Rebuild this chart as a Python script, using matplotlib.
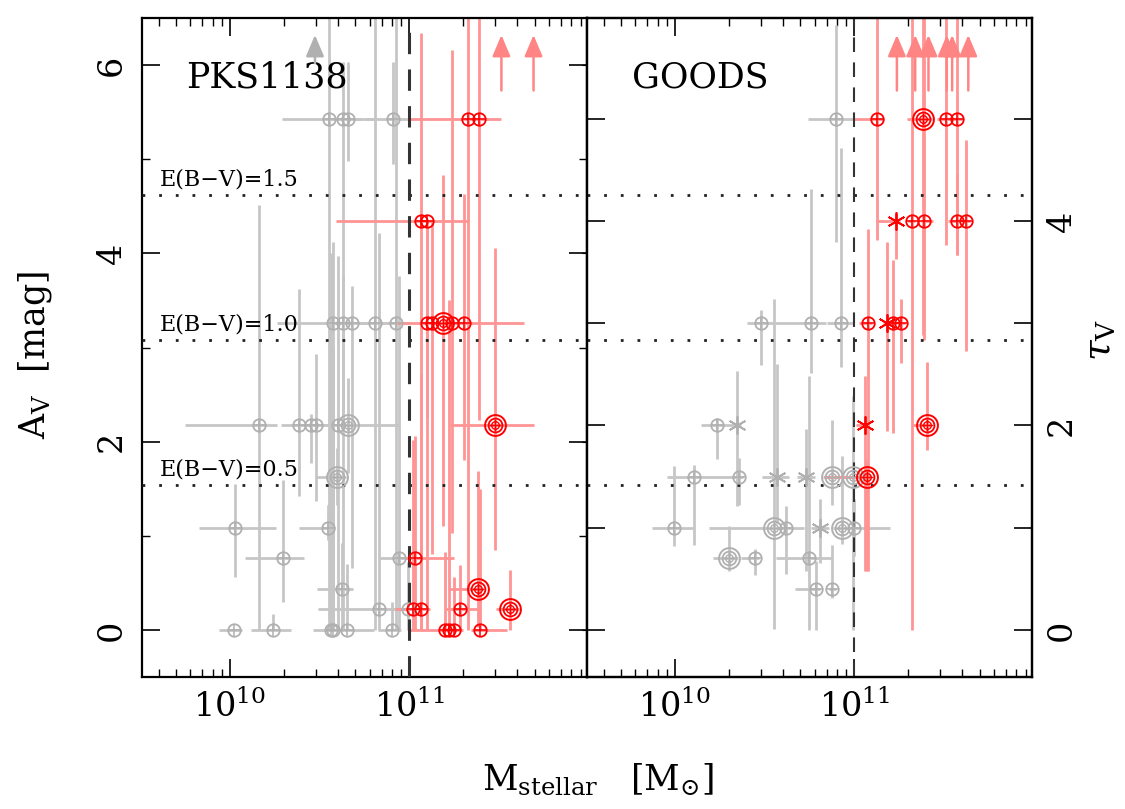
import matplotlib
matplotlib.use("Agg")
import matplotlib.pyplot as plt
import numpy as np
from matplotlib.ticker import LogLocator, LogFormatterMathtext, FixedLocator, FuncFormatter, NullFormatter

plt.rcParams['font.family'] = ['DejaVu Serif']
plt.rcParams['mathtext.fontset'] = 'dejavuserif'

AV_PER_TAU = 1.086   # A_V = 1.086 tau_V
RV = 3.08            # A_V = R_V E(B-V)
EBV_LEVELS = [0.5, 1.0, 1.5]

# ---- PKS1138 ----
pks_logm = [10.553, 10.631, 10.660, 10.909, 10.572, 10.631, 10.683, 10.809, 10.924,
            10.160, 10.387, 10.452, 10.480, 10.605, 10.660, 10.596, 10.026, 10.544,
            10.294, 10.942, 10.624, 10.831, 10.994, 10.020, 10.238, 10.563, 10.572,
            10.655, 10.905,
            11.327, 11.390, 11.063, 11.100, 11.100, 11.127, 11.190, 11.238, 11.303,
            11.476, 11.031, 11.383, 11.022, 11.066, 11.285, 11.563, 11.198, 11.220,
            11.248, 11.396]
pks_tau = [5, 5, 5, 5, 3, 3, 3, 3, 3,
           2, 2, 2, 2, 2, 2, 1.5, 1, 1,
           0.7, 0.7, 0.4, 0.2, 0.2, 0, 0, 0, 0,
           0, 0,
           5, 5, 4, 4, 3, 3, 3, 3, 3,
           2, 0.7, 0.4, 0.2, 0.2, 0.2, 0.2, 0, 0,
           0, 0]
pks_xlo = [0.26, 0.08, 0.03, 0.15, 0.31, 0.05, 0.05, 0.10, 0.10,
           0.41, 0.10, 0.06, 0.03, 0.10, 0.05, 0.12, 0.20, 0.16,
           0.21, 0.11, 0.14, 0.34, 0.10, 0.08, 0.12, 0.10, 0.03,
           0.06, 0.08,
           0.34, 0.03, 0.47, 0.02, 0.02, 0.02, 0.26, 0.02, 0.02,
           0.25, 0.05, 0.16, 0.10, 0.02, 0.08, 0.08, 0.20, 0.02,
           0.02, 0.05]
pks_xhi = [0.08, 0.10, 0.15, 0.08, 0.06, 0.05, 0.10, 0.10, 0.08,
           0.10, 0.06, 0.03, 0.10, 0.05, 0.28, 0.05, 0.23, 0.04,
           0.12, 0.05, 0.06, 0.10, 0.03, 0.05, 0.10, 0.03, 0.06,
           0.15, 0.05,
           0.03, 0.12, 0.02, 0.23, 0.02, 0.02, 0.45, 0.02, 0.02,
           0.22, 0.22, 0.03, 0.02, 0.05, 0.10, 0.05, 0.02, 0.02,
           0.05, 0.15]
pks_alo = [5.43, 5.43, 0.45, 0.48, 3.26, 1.00, 2.60, 3.26, 3.26,
           2.17, 0.75, 0.40, 0.80, 2.17, 0.50, 0.30, 0.52, 0.13,
           0.46, 0.76, 0.43, 0.22, 0.22, 0.00, 0.00, 0.00, 0.00,
           0.00, 0.00,
           5.43, 3.20, 4.34, 4.34, 1.00, 2.45, 2.15, 2.23, 1.45,
           1.32, 0.76, 0.40, 0.22, 0.22, 0.22, 0.22, 0.00, 0.00,
           0.00, 0.00]
pks_ahi = [1.50, 0.60, 0.60, 0.60, 0.86, 0.50, 0.40, 3.50, 3.50,
           2.34, 1.45, 0.12, 0.76, 1.80, 0.50, 0.30, 0.46, 0.24,
           0.83, 3.00, 0.49, 4.00, 0.50, 0.00, 0.17, 4.00, 3.00,
           0.70, 0.30,
           1.50, 1.50, 2.00, 0.00, 1.00, 1.10, 1.57, 2.90, 1.37,
           1.88, 1.30, 1.25, 1.80, 2.50, 0.47, 0.42, 0.83, 3.50,
           0.56, 1.50]
pks_kind = ['o', 'o', 'o', 'o', 'o', 'o', 'o', 'o', 'o',
            'o', 'o', 'o', 'o', 'o', 'oo', 'oo', 'o', 'o',
            'o', 'o', 'o', 'o', 'o', 'o', 'o', 'o', 'o',
            'o', 'o',
            'o', 'o', 'o', 'o', 'o', 'o', 'oo', 'o', 'o',
            'oo', 'o', 'oo', 'o', 'o', 'o', 'oo', 'o', 'o',
            'o', 'o']
pks_limits = [10.474, 11.513, 11.692]

# ---- GOODS ----
goods_logm = [10.900, 10.480, 10.760, 10.926, 10.237, 10.348, 10.107, 10.357, 10.567,
              10.733, 10.876, 10.994, 9.993, 10.552, 10.620, 10.810, 10.930, 10.996,
              10.302, 10.446, 10.746, 10.787, 10.876,
              11.126, 11.382, 11.511, 11.570, 11.232, 11.320, 11.390, 11.570, 11.622,
              11.076, 11.182, 11.218, 11.260, 11.061, 11.404, 11.070]
goods_tau = [5, 3, 3, 3, 2, 2, 1.5, 1.5, 1.5,
             1.5, 1.5, 1.5, 1, 1, 1, 1, 1, 1,
             0.7, 0.7, 0.7, 0.4, 0.4,
             5, 5, 5, 5, 4, 4, 4, 4, 4,
             3, 3, 3, 3, 2, 2, 1.5]
goods_xlo = [0.16, 0.08, 0.20, 0.08, 0.09, 0.02, 0.15, 0.02, 0.08,
             0.05, 0.05, 0.03, 0.12, 0.36, 0.05, 0.05, 0.05, 0.03,
             0.09, 0.08, 0.18, 0.12, 0.02,
             0.13, 0.09, 0.05, 0.02, 0.11, 0.02, 0.02, 0.05, 0.02,
             0.05, 0.02, 0.02, 0.02, 0.05, 0.08, 0.24]
goods_xhi = [0.10, 0.07, 0.08, 0.07, 0.11, 0.02, 0.24, 0.02, 0.07,
             0.05, 0.05, 0.03, 0.11, 0.05, 0.10, 0.05, 0.05, 0.20,
             0.05, 0.02, 0.13, 0.02, 0.02,
             0.04, 0.05, 0.02, 0.03, 0.02, 0.02, 0.05, 0.02, 0.02,
             0.02, 0.02, 0.02, 0.02, 0.02, 0.02, 0.02]
goods_alo = [1.31, 0.44, 0.53, 0.47, 0.36, 0.86, 0.73, 0.30, 0.50,
             1.00, 0.30, 1.63, 0.19, 1.08, 0.49, 0.38, 0.17, 0.30,
             0.13, 0.18, 0.76, 0.43, 0.10,
             1.29, 2.30, 1.34, 1.45, 0.40, 4.34, 1.26, 0.36, 1.38,
             2.63, 1.15, 1.17, 0.42, 1.55, 0.26, 1.00]
goods_ahi = [1.00, 0.14, 1.43, 1.86, 0.08, 0.58, 0.12, 0.20, 1.20,
             0.50, 0.60, 0.86, 0.65, 2.43, 0.23, 0.31, 0.76, 0.30,
             0.34, 0.10, 1.94, 0.30, 0.47,
             1.50, 1.50, 1.50, 1.50, 0.07, 2.50, 2.50, 0.50, 0.86,
             1.00, 0.86, 0.67, 0.26, 0.53, 0.67, 0.18]
goods_kind = ['o', 'o', 'o', 'o', 'o', 'x', 'o', 'o', 'x',
              'x', 'oo', 'oo', 'o', 'oo', 'o', 'x', 'oo', 'o',
              'oo', 'o', 'o', 'o', 'o',
              'o', 'oo', 'o', 'o', 'x', 'o', 'o', 'o', 'o',
              'o', 'x', 'o', 'o', 'x', 'oo', 'oo']
goods_limits = [11.237, 11.339, 11.413, 11.515, 11.545, 11.635]

GREY_PT, GREY_ERR = '#b0b0b0', '#c6c6c6'
RED_PT, RED_ERR = '#ff0000', '#ff9494'
MCUT = 11.0


def draw_marker(ax, x, y, kind, c):
    kw = dict(mfc='none', mec=c, linestyle='none', zorder=5)
    if kind == 'x':
        ax.plot(x, y, marker=(6, 2, 0), ms=13, mew=1.3, color=c, linestyle='none', zorder=5)
        return
    if kind == 'oo':
        ax.plot(x, y, marker='o', ms=15, mew=1.4, **kw)
        ax.plot(x, y, marker='o', ms=10, mew=1.3, **kw)
        ax.plot(x, y, marker='o', ms=5.5, mew=1.0, **kw)
        ax.plot(x, y, marker='+', ms=9, mew=1.0, color=c, linestyle='none', zorder=5)
    else:
        ax.plot(x, y, marker='o', ms=9, mew=1.3, **kw)
        ax.plot(x, y, marker='+', ms=9, mew=1.1, color=c, linestyle='none', zorder=5)


def draw_panel(ax, logm, tau, xlo, xhi, alo, ahi, kind, limits, dash_lw):
    logm = np.array(logm)
    av = AV_PER_TAU * np.array(tau)
    m = 10 ** logm
    xerr = np.vstack([m - 10 ** (logm - np.array(xlo)), 10 ** (logm + np.array(xhi)) - m])
    yerr = np.vstack([alo, ahi])
    for sel, ce in [(logm < MCUT, GREY_ERR), (logm >= MCUT, RED_ERR)]:
        ax.errorbar(m[sel], av[sel], xerr=xerr[:, sel], yerr=yerr[:, sel], fmt='none',
                    ecolor=ce, elinewidth=2.0, capsize=0, zorder=2)
    # grey points first, red on top
    order = np.argsort(logm >= MCUT, kind='stable')
    for i in order:
        c = RED_PT if logm[i] >= MCUT else GREY_PT
        draw_marker(ax, m[i], av[i], kind[i], c)
    # lower limits drawn as upward arrows
    for lm in limits:
        c = '#ff8585' if lm >= MCUT else '#b0b0b0'
        base = 5.73 if lm >= MCUT else 6.02
        ax.annotate('', xy=(10 ** lm, 6.32), xytext=(10 ** lm, base),
                    arrowprops=dict(arrowstyle='-|>,head_width=0.55,head_length=1.3',
                                    color=c, lw=1.8, shrinkA=0, shrinkB=0), zorder=4)
    for e in EBV_LEVELS:
        ax.axhline(RV * e, color='#222222', ls=(0, (1, 5)), lw=2.0, zorder=3)
    ax.axvline(1e11, color='#333333', ls=(0, (7, 5)), lw=dash_lw, zorder=3)


fig = plt.figure(figsize=(11.25, 8.09), dpi=100)
W, H = 1125.0, 809.0
ax1 = fig.add_axes([142 / W, 1 - 677 / H, 445 / W, 659 / H])
ax2 = fig.add_axes([587 / W, 1 - 677 / H, 445 / W, 659 / H])

draw_panel(ax1, pks_logm, pks_tau, pks_xlo, pks_xhi, pks_alo, pks_ahi, pks_kind, pks_limits, 2.2)
draw_panel(ax2, goods_logm, goods_tau, goods_xlo, goods_xhi, goods_alo, goods_ahi, goods_kind,
           goods_limits, 1.5)

for ax in (ax1, ax2):
    ax.set_xscale('log')
    ax.set_xlim(10 ** 9.51, 10 ** 11.99)
    ax.set_ylim(-0.5, 6.5)
    for s in ax.spines.values():
        s.set_linewidth(1.6)
    ax.xaxis.set_major_locator(LogLocator(base=10))
    ax.xaxis.set_minor_locator(LogLocator(base=10, subs=np.arange(2, 10)))
    ax.xaxis.set_major_formatter(LogFormatterMathtext())
    ax.xaxis.set_minor_formatter(NullFormatter())
    ax.tick_params(axis='x', which='both', direction='in', top=True, bottom=True,
                   labelsize=24, pad=9)
    ax.tick_params(axis='x', which='major', length=13, width=1.2)
    ax.tick_params(axis='x', which='minor', length=6, width=1.0)
    ax.yaxis.set_major_locator(FixedLocator([0, 2, 4, 6]))
    ax.yaxis.set_minor_locator(FixedLocator([1, 3, 5]))

ax1.tick_params(axis='y', which='both', direction='in', left=True, right=True, labelsize=24, pad=10)
ax1.tick_params(axis='y', which='major', length=13, width=1.2)
ax1.tick_params(axis='y', which='minor', length=6, width=1.0)
for t in ax1.get_yticklabels():
    t.set_rotation(90)
    t.set_va('center')
ax2.tick_params(axis='y', which='both', left=False, right=False, labelleft=False)

# tau_V scale on the right panel
ax2r = ax2.twinx()
ax2r.set_ylim(-0.5 / AV_PER_TAU, 6.5 / AV_PER_TAU)
ax2r.yaxis.set_major_locator(FixedLocator([0, 1, 2, 3, 4, 5, 6]))
ax2r.yaxis.set_major_formatter(FuncFormatter(lambda v, p: '%d' % v if int(v) % 2 == 0 else ''))
ax2r.tick_params(axis='y', direction='in', left=True, right=True, length=13, width=1.2,
                 labelsize=24, pad=10)
for t in ax2r.get_yticklabels():
    t.set_rotation(90)
    t.set_va('center')
for s in ax2r.spines.values():
    s.set_linewidth(1.6)

# E(B-V) labels
for e in EBV_LEVELS:
    ax1.text(10 ** 9.61, RV * e + 0.05, 'E(B\u2212V)=%.1f' % e, fontsize=16, va='bottom', ha='left')

ax1.text(0.10, 0.91, 'PKS1138', transform=ax1.transAxes, fontsize=25, va='center', ha='left')
ax2.text(0.10, 0.91, 'GOODS', transform=ax2.transAxes, fontsize=25, va='center', ha='left')

fig.text(35 / W, 1 - 355 / H, r'A$_{\rm V}$  [mag]', rotation=90, fontsize=25, ha='center', va='center')
fig.text(598 / W, 1 - 780 / H, r'M$_{\rm stellar}$   [M$_{\odot}$]', fontsize=25, ha='center', va='center')
fig.text(1100 / W, 1 - 340 / H, r'$\tau_{\rm V}$', rotation=90, fontsize=27, ha='center', va='center')

fig.savefig('out.png', dpi=100)
